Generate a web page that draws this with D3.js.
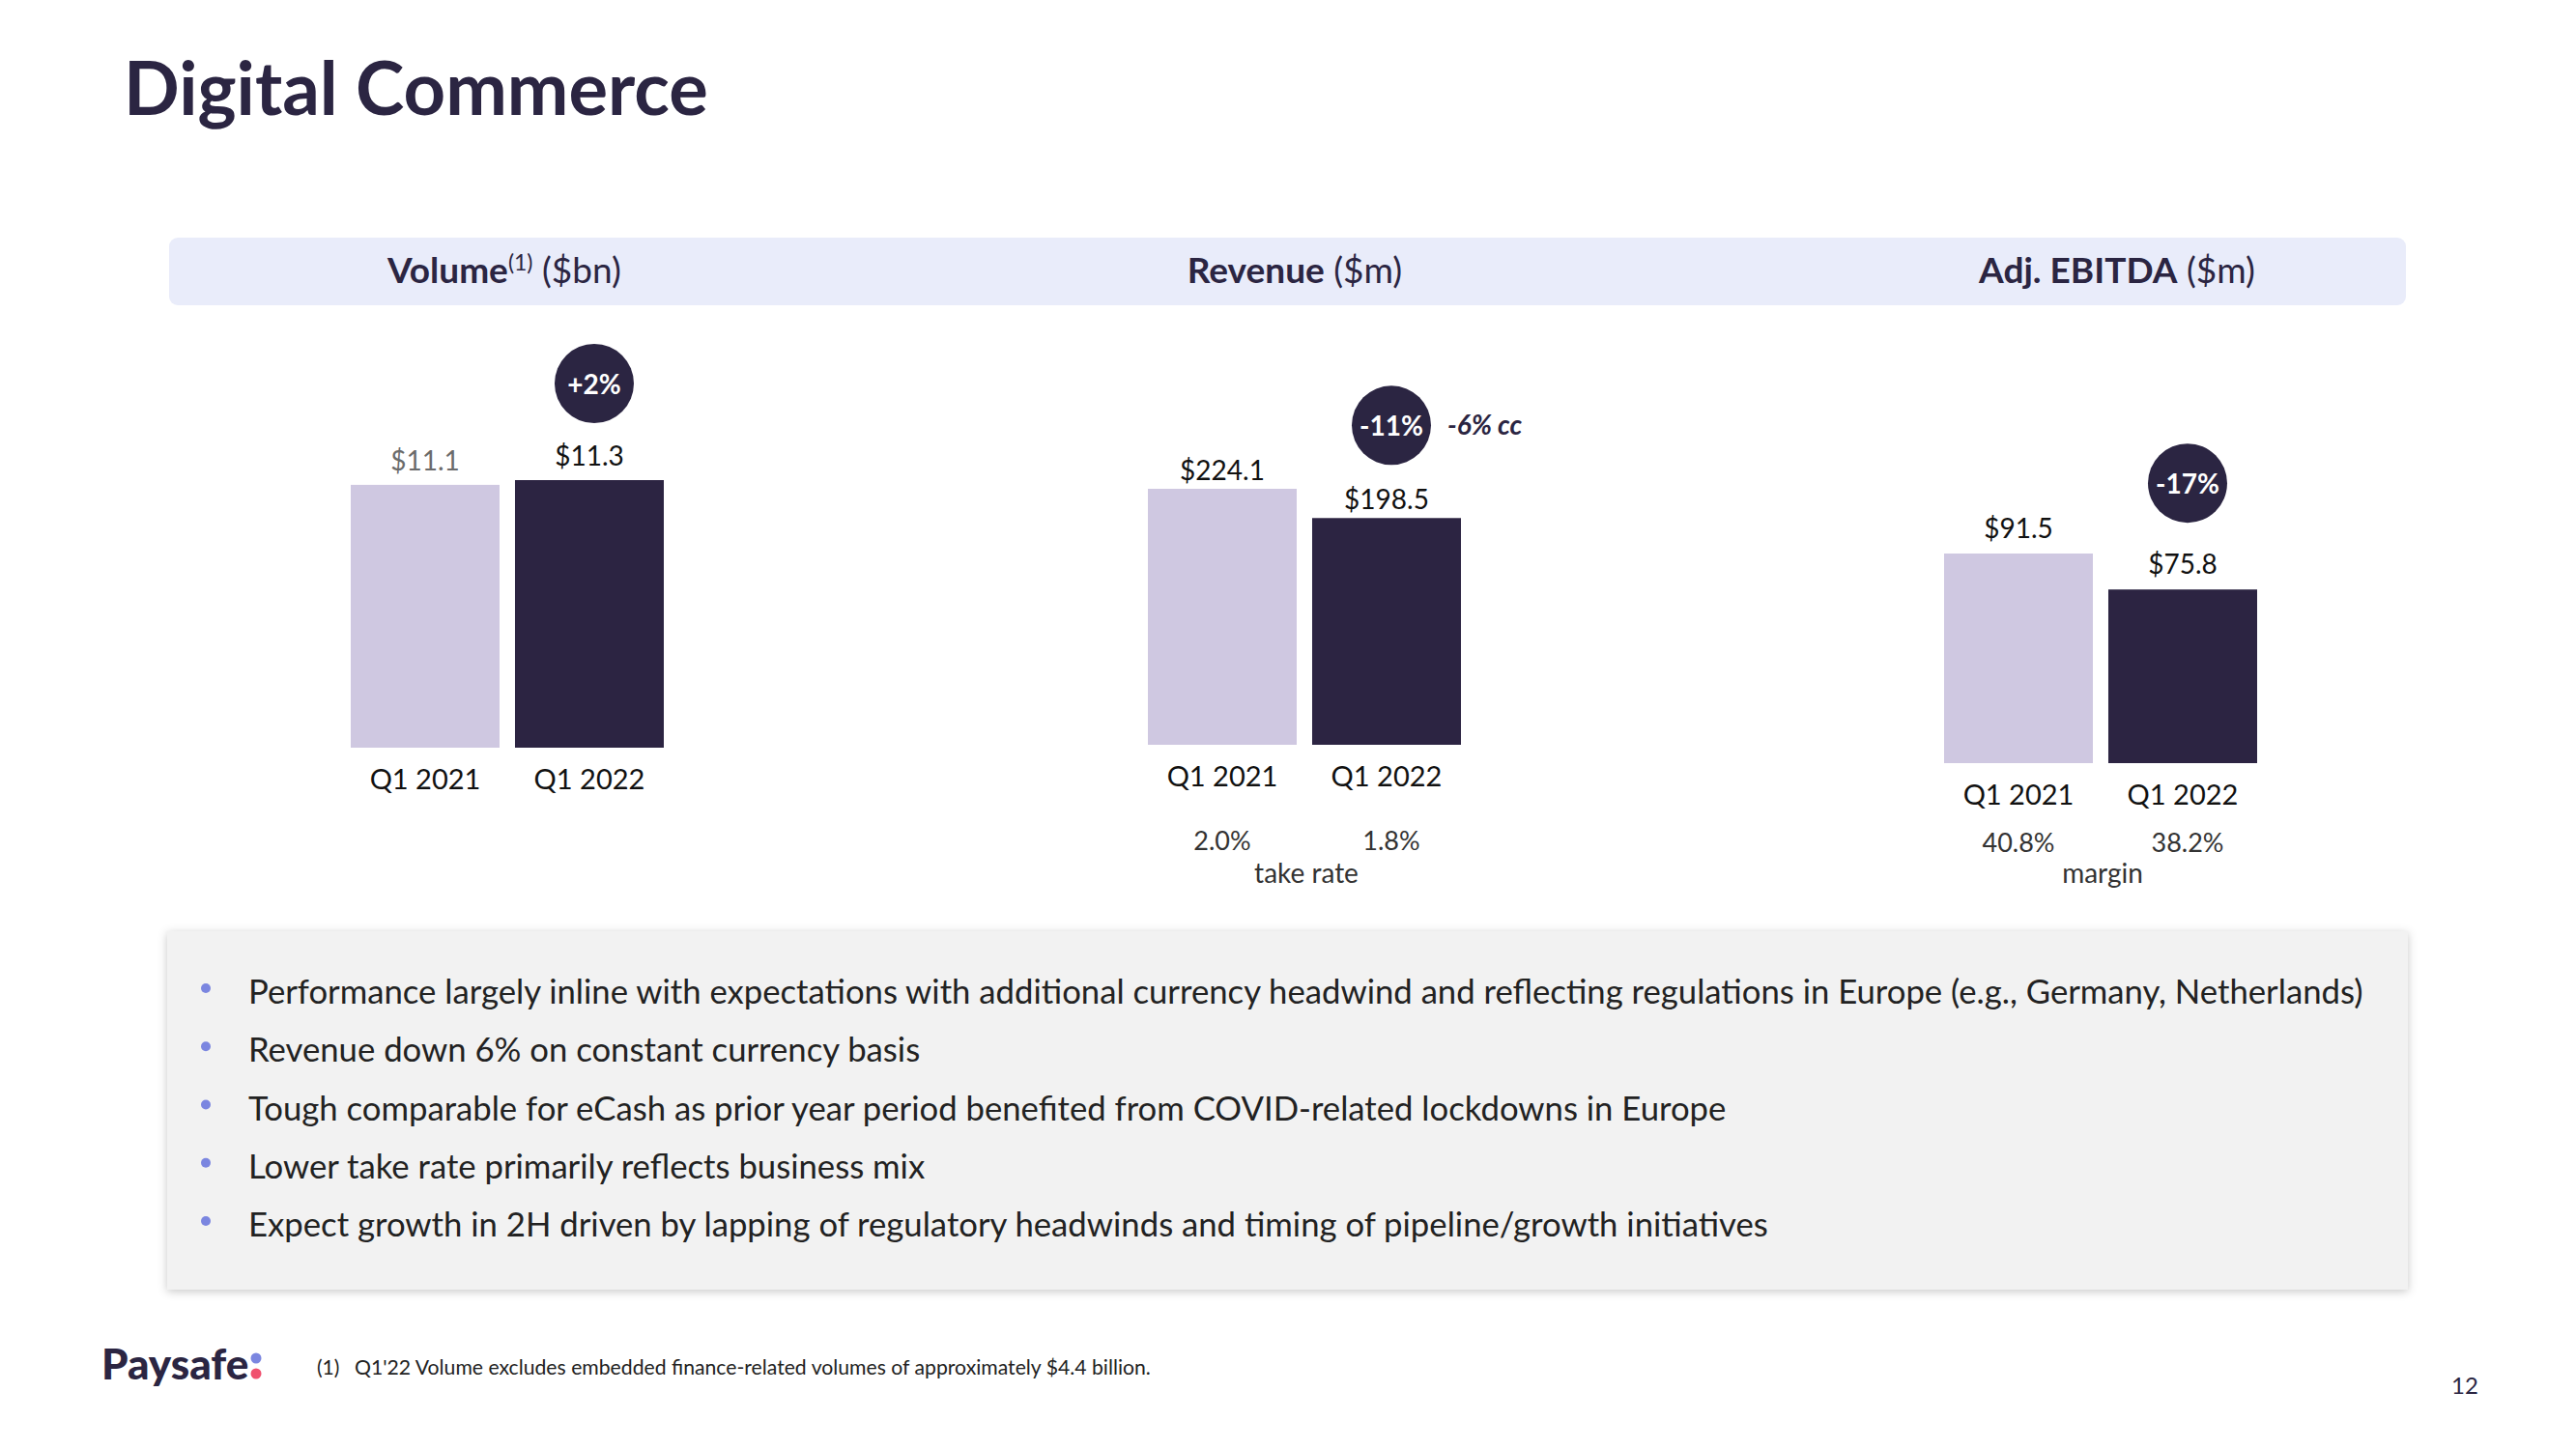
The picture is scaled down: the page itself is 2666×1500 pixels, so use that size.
<!DOCTYPE html>
<html>
<head>
<meta charset="utf-8">
<script src="https://cdn.jsdelivr.net/npm/d3@7"></script>
<style>
  html, body { margin: 0; padding: 0; background: #ffffff; }
  svg { display: block; font-family: Lato, 'Noto Sans', sans-serif; }
</style>
</head>
<body>
<div id="graphic"></div>
<script>
// Digital Commerce slide: three small two-bar panels, a bullet box and a footer.

const categories = ['Q1 2021', 'Q1 2022'];
const volume = [11.1, 11.3];
const revenue = [224.1, 198.5];
const ebitda = [91.5, 75.8];
const growthLabels = ['+2%', '-11%', '-17%'];
const takeRate = ['2.0%', '1.8%'];
const ebitdaMargin = ['40.8%', '38.2%'];
const bullets = [
  'Performance largely inline with expectations with additional currency headwind and reflecting regulations in Europe (e.g., Germany, Netherlands)',
  'Revenue down 6% on constant currency basis',
  'Tough comparable for eCash as prior year period benefited from COVID-related lockdowns in Europe',
  'Lower take rate primarily reflects business mix',
  'Expect growth in 2H driven by lapping of regulatory headwinds and timing of pipeline/growth initiatives'
];
const footnote = "Q1'22 Volume excludes embedded finance-related volumes of approximately $4.4 billion.";

const NAVY = '#2b2542';
const BAR_COLOURS = ['#cfc8e1', '#2c2442'];
const BULLET_DOT = '#7b86e0';

const width = 2666;
const height = 1500;

const svg = d3
  .select('#graphic')
  .append('svg')
  .attr('width', width)
  .attr('height', height);

const defs = svg.append('defs');
const shadow = defs.append('filter').attr('id', 'box-shadow').attr('x', '-5%').attr('y', '-10%').attr('width', '110%').attr('height', '125%');
shadow
  .append('feDropShadow')
  .attr('dx', 0)
  .attr('dy', 2)
  .attr('stdDeviation', 5)
  .attr('flood-color', '#000')
  .attr('flood-opacity', 0.22);

// title
svg
  .append('text')
  .attr('x', 128)
  .attr('y', 119)
  .attr('fill', NAVY)
  .attr('font-size', 76)
  .attr('font-weight', 700)
  .text('Digital Commerce');

// header band
svg
  .append('rect')
  .attr('x', 175)
  .attr('y', 246)
  .attr('width', 2315)
  .attr('height', 70)
  .attr('rx', 9)
  .attr('fill', '#e9ecfa');

const panels = [
  {
    title: 'Volume', sup: '(1)', unit: ' ($bn)', headerX: 522,
    values: volume, left: 363, bottom: 774, top: 497, labelGap: 15, bubbleGap: 100,
    labelColours: ['#6b6b6b', '#111111'], growth: growthLabels[0], note: null
  },
  {
    title: 'Revenue', sup: null, unit: ' ($m)', headerX: 1340,
    values: revenue, left: 1188, bottom: 771, top: 506, labelGap: 9, bubbleGap: 96,
    labelColours: ['#111111', '#111111'], growth: growthLabels[1], extra: '-6% cc',
    note: { values: takeRate, label: 'take rate', valueOffset: 109, labelOffset: 143 }
  },
  {
    title: 'Adj. EBITDA', sup: null, unit: ' ($m)', headerX: 2191,
    values: ebitda, left: 2012, bottom: 790, top: 573, labelGap: 16, bubbleGap: 110,
    labelColours: ['#111111', '#111111'], growth: growthLabels[2],
    note: { values: ebitdaMargin, label: 'margin', valueOffset: 92, labelOffset: 124 }
  }
];

function drawPanel(panel) {
  const header = svg
    .append('text')
    .attr('x', panel.headerX)
    .attr('y', 293)
    .attr('text-anchor', 'middle')
    .attr('fill', NAVY)
    .attr('font-size', 37);
  header.append('tspan').attr('font-weight', 700).text(panel.title);
  if (panel.sup) {
    header.append('tspan').attr('font-size', 23).attr('dy', -13).text(panel.sup);
    header.append('tspan').attr('dy', 13).text(panel.unit);
  } else {
    header.append('tspan').text(panel.unit);
  }

  const x = d3
    .scaleBand()
    .domain(categories)
    .range([panel.left, panel.left + 324])
    .paddingInner(0.094)
    .paddingOuter(0);
  const y = d3
    .scaleLinear()
    .domain([0, d3.max(panel.values)])
    .range([panel.bottom, panel.top]);

  const rows = categories.map((c, i) => ({ category: c, value: panel.values[i], index: i }));
  const g = svg.append('g');

  g.selectAll('rect.bar')
    .data(rows)
    .join('rect')
    .attr('class', 'bar')
    .attr('x', (d) => x(d.category))
    .attr('y', (d) => y(d.value))
    .attr('width', x.bandwidth())
    .attr('height', (d) => y(0) - y(d.value))
    .attr('fill', (d) => BAR_COLOURS[d.index]);

  g.selectAll('text.value')
    .data(rows)
    .join('text')
    .attr('class', 'value')
    .attr('x', (d) => x(d.category) + x.bandwidth() / 2)
    .attr('y', (d) => y(d.value) - panel.labelGap)
    .attr('text-anchor', 'middle')
    .attr('font-size', 28)
    .attr('fill', (d) => panel.labelColours[d.index])
    .text((d) => `$${d3.format('.1f')(d.value)}`);

  g.selectAll('text.category')
    .data(rows)
    .join('text')
    .attr('class', 'category')
    .attr('x', (d) => x(d.category) + x.bandwidth() / 2)
    .attr('y', y(0) + 43)
    .attr('text-anchor', 'middle')
    .attr('font-size', 29)
    .attr('fill', '#111111')
    .text((d) => d.category);

  // growth bubble over the latest bar
  const last = rows[rows.length - 1];
  const cx = x(last.category) + x.bandwidth() / 2 + 5;
  const cy = y(last.value) - panel.bubbleGap;
  g.append('circle').attr('cx', cx).attr('cy', cy).attr('r', 41).attr('fill', NAVY);
  g.append('text')
    .attr('x', cx)
    .attr('y', cy)
    .attr('text-anchor', 'middle')
    .attr('dominant-baseline', 'central')
    .attr('font-size', 28)
    .attr('font-weight', 700)
    .attr('fill', '#ffffff')
    .text(panel.growth);
  if (panel.extra) {
    g.append('text')
      .attr('x', cx + 58)
      .attr('y', cy + 10)
      .attr('font-size', 28)
      .attr('font-weight', 700)
      .attr('font-style', 'italic')
      .attr('fill', NAVY)
      .text(panel.extra);
  }

  if (panel.note) {
    g.selectAll('text.note')
      .data(rows)
      .join('text')
      .attr('class', 'note')
      .attr('x', (d) => x(d.category) + x.bandwidth() / 2 + d.index * 5)
      .attr('y', y(0) + panel.note.valueOffset)
      .attr('text-anchor', 'middle')
      .attr('font-size', 27)
      .attr('fill', '#333333')
      .text((d) => panel.note.values[d.index]);
    g.append('text')
      .attr('x', panel.left + 164)
      .attr('y', y(0) + panel.note.labelOffset)
      .attr('text-anchor', 'middle')
      .attr('font-size', 28)
      .attr('fill', '#333333')
      .text(panel.note.label);
  }
}

panels.forEach(drawPanel);

// commentary box
svg
  .append('rect')
  .attr('x', 173)
  .attr('y', 964)
  .attr('width', 2319)
  .attr('height', 371)
  .attr('fill', '#f2f2f2')
  .attr('filter', 'url(#box-shadow)');

const lineY = d3.scalePoint().domain(d3.range(bullets.length)).range([1039, 1280]);

svg
  .selectAll('circle.bullet')
  .data(bullets)
  .join('circle')
  .attr('class', 'bullet')
  .attr('cx', 213)
  .attr('cy', (d, i) => lineY(i) - 16)
  .attr('r', 5)
  .attr('fill', BULLET_DOT);

svg
  .selectAll('text.bullet-text')
  .data(bullets)
  .join('text')
  .attr('class', 'bullet-text')
  .attr('x', 257)
  .attr('y', (d, i) => lineY(i))
  .attr('font-size', 34.7)
  .attr('fill', '#222222')
  .text((d) => d);

// footer: logo, footnote, page number
svg
  .append('text')
  .attr('x', 105)
  .attr('y', 1428)
  .attr('font-size', 44)
  .attr('font-weight', 900)
  .attr('fill', NAVY)
  .text('Paysafe');
svg.append('circle').attr('cx', 265).attr('cy', 1406).attr('r', 5.5).attr('fill', BULLET_DOT);
svg.append('circle').attr('cx', 265).attr('cy', 1422).attr('r', 5.5).attr('fill', '#f0506e');

svg
  .append('text')
  .attr('x', 328)
  .attr('y', 1423)
  .attr('font-size', 21)
  .attr('fill', '#222222')
  .text('(1)');
svg
  .append('text')
  .attr('x', 367)
  .attr('y', 1423)
  .attr('font-size', 21.2)
  .attr('fill', '#222222')
  .text(footnote);

svg
  .append('text')
  .attr('x', 2551)
  .attr('y', 1443)
  .attr('text-anchor', 'middle')
  .attr('font-size', 24)
  .attr('fill', NAVY)
  .text('12');
</script>
</body>
</html>
